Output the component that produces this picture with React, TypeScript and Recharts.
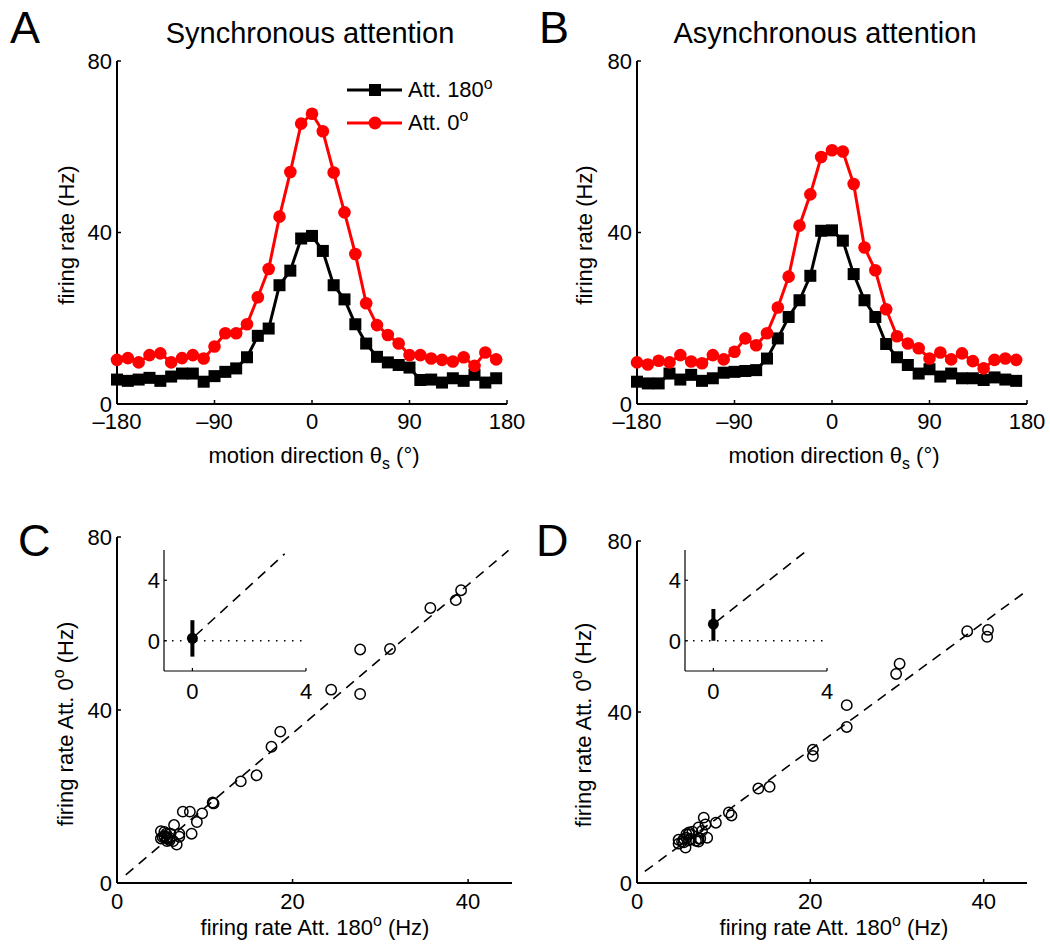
import React from "react";
import {
  LineChart,
  Line,
  ScatterChart,
  Scatter,
  XAxis,
  YAxis,
  ReferenceLine,
  ErrorBar,
} from "recharts";

const FONT = '"Liberation Sans", Arial, Helvetica, sans-serif';

// motion directions (deg), shared by both tuning curves
const directions = [
  -180, -170, -160, -150, -140, -130, -120, -110, -100, -90, -80, -70, -60, -50, -40, -30, -20, -10,
  0, 10, 20, 30, 40, 50, 60, 70, 80, 90, 100, 110, 120, 130, 140, 150, 160, 170,
];

// synchronous attention (panel A / C)
const syncAtt180 = [
  5.7, 5.4, 5.7, 6.1, 5.4, 6.4, 7.1, 7.1, 5.2, 6.5, 7.5, 8.3, 10.9, 15.9, 17.6, 27.7, 31.1, 38.6,
  39.2, 35.7, 27.7, 24.4, 18.6, 14.1, 11.0, 9.7, 9.1, 8.5, 5.6, 5.7, 5.0, 6.0, 5.4, 6.8, 5.0, 6.0,
];
const syncAtt0 = [
  10.3, 10.7, 9.7, 11.4, 11.8, 9.7, 10.7, 11.4, 10.6, 13.4, 16.5, 16.5, 18.6, 24.9, 31.5, 43.7, 54.1, 65.4,
  67.7, 63.6, 54.0, 44.7, 35.0, 23.5, 18.4, 16.1, 14.1, 11.4, 11.4, 10.6, 10.3, 9.9, 10.9, 8.9, 12.0, 10.4,
];

// asynchronous attention (panel B / D)
const asyncAtt180 = [
  5.2, 4.8, 4.8, 7.1, 5.7, 6.8, 5.4, 6.0, 7.3, 7.5, 7.7, 7.9, 10.6, 15.3, 20.3, 24.2, 29.9, 40.4,
  40.5, 38.1, 30.3, 24.2, 20.3, 14.0, 10.9, 9.1, 7.1, 8.1, 6.4, 7.1, 6.0, 6.0, 5.6, 6.2, 5.7, 5.4,
];
const asyncAtt0 = [
  9.7, 9.2, 10.1, 9.7, 11.4, 9.9, 9.5, 11.4, 10.4, 12.2, 15.3, 13.7, 16.5, 22.5, 29.7, 41.6, 48.9, 57.6,
  59.2, 58.9, 51.3, 36.5, 31.2, 22.1, 15.8, 14.1, 13.0, 10.6, 12.0, 10.4, 11.8, 10.0, 8.3, 10.3, 10.6, 10.3,
];

const angleTicks = [-180, -90, 0, 90, 180];
const rateTicks = [0, 40, 80];
const scatterTicks = [0, 20, 40];
const insetTicks = [0, 4];

// fitted lines
const fitSync = [{ x: 1, y: 1.9 }, { x: 44.6, y: 76.9 }];
const fitAsync = [{ x: 0.9, y: 2.7 }, { x: 44.8, y: 68.1 }];
const insetFitSync = [{ x: 0.1, y: 0.33 }, { x: 3.25, y: 5.75 }];
const insetFitAsync = [{ x: 0.1, y: 1.25 }, { x: 3.3, y: 5.98 }];
const interceptSync = [{ x: 0, y: 0.16, err: [1.21, 1.2] }];
const interceptAsync = [{ x: 0, y: 1.1, err: [1.1, 1.0] }];

const tuningSync = directions.map((d, i) => ({ dir: d, att180: syncAtt180[i], att0: syncAtt0[i] }));
const tuningAsync = directions.map((d, i) => ({ dir: d, att180: asyncAtt180[i], att0: asyncAtt0[i] }));
const pairsSync = directions.map((_, i) => ({ x: syncAtt180[i], y: syncAtt0[i] }));
const pairsAsync = directions.map((_, i) => ({ x: asyncAtt180[i], y: asyncAtt0[i] }));

const axisLine = { stroke: "#000", strokeWidth: 2 };
const tickLine = { stroke: "#000", strokeWidth: 1.5 };
const tickText = { fill: "#000", fontSize: 22, fontFamily: FONT };
const fmtAngle = (v: number) => (v < 0 ? `\u2013${Math.abs(v)}` : `${v}`);

const Sup = ({ children }: { children: React.ReactNode }) => (
  <span style={{ fontSize: "0.72em", position: "relative", top: "-0.55em" }}>{children}</span>
);
const Sub = ({ children }: { children: React.ReactNode }) => (
  <span style={{ fontSize: "0.72em", position: "relative", top: "0.4em" }}>{children}</span>
);

const squareDot = (p: any) =>
  p.cx == null ? null : (
    <rect key={`sq-${p.index}`} x={p.cx - 6} y={p.cy - 6} width={12} height={12} fill="#000" />
  );

const openCircle = (p: any) =>
  p.cx == null ? null : <circle cx={p.cx} cy={p.cy} r={5.2} fill="none" stroke="#000" strokeWidth={1.5} />;

const filledDot = (p: any) =>
  p.cx == null ? null : <circle cx={p.cx} cy={p.cy} r={5.5} fill="#000" />;

const legendRows = [
  { label: "180", color: "#000", square: true },
  { label: "0", color: "#ff0000", square: false },
];

const TuningLegend = () => (
  <div style={{ position: "absolute", left: 347, top: 74, fontFamily: FONT, fontSize: 22, color: "#000" }}>
    {legendRows.map((r) => (
      <div key={r.label} style={{ display: "flex", alignItems: "center", height: 32.5 }}>
        <svg width={56} height={20}>
          <line x1={0} y1={10} x2={55} y2={10} stroke={r.color} strokeWidth={3} />
          {r.square ? (
            <rect x={22} y={4} width={12} height={12} fill={r.color} />
          ) : (
            <circle cx={28} cy={10} r={6.5} fill={r.color} />
          )}
        </svg>
        <span style={{ marginLeft: 5, whiteSpace: "nowrap" }}>
          Att. {r.label}
          <Sup>o</Sup>
        </span>
      </div>
    ))}
  </div>
);

function TuningPanel({ left, width, data }: { left: number; width: number; data: any[] }) {
  return (
    <div style={{ position: "absolute", left, top: 0 }}>
      <LineChart width={width} height={480} data={data} margin={{ top: 61, right: width - 507, left: 0, bottom: 0 }}>
        <XAxis
          type="number"
          dataKey="dir"
          domain={[-180, 180]}
          ticks={angleTicks}
          tickFormatter={fmtAngle}
          height={76}
          tickSize={-4}
          tickMargin={13}
          axisLine={axisLine}
          tickLine={tickLine}
          tick={tickText}
          interval={0}
        />
        <YAxis
          type="number"
          domain={[0, 80]}
          ticks={rateTicks}
          width={117}
          tickSize={-4}
          tickMargin={9}
          axisLine={axisLine}
          tickLine={tickLine}
          tick={tickText}
          interval={0}
        />
        <Line type="linear" dataKey="att180" stroke="#000" strokeWidth={3} dot={squareDot} isAnimationActive={false} />
        <Line
          type="linear"
          dataKey="att0"
          stroke="#ff0000"
          strokeWidth={3}
          dot={{ r: 6.3, fill: "#ff0000", stroke: "none" }}
          isAnimationActive={false}
        />
      </LineChart>
    </div>
  );
}

function ScatterPanel({
  left,
  top,
  plotH,
  data,
  fit,
  rightPad,
}: {
  left: number;
  top: number;
  plotH: number;
  data: any[];
  fit: { x: number; y: number }[];
  rightPad: number;
}) {
  return (
    <div style={{ position: "absolute", left, top: 480 }}>
      <ScatterChart width={520} height={480} margin={{ top, right: rightPad, left: 0, bottom: 0 }}>
        <XAxis
          type="number"
          dataKey="x"
          domain={[0, 45]}
          ticks={scatterTicks}
          height={480 - top - plotH}
          tickSize={-4}
          tickMargin={14}
          axisLine={axisLine}
          tickLine={tickLine}
          tick={tickText}
          interval={0}
        />
        <YAxis
          type="number"
          dataKey="y"
          domain={[0, 80]}
          ticks={rateTicks}
          width={117}
          tickSize={-4}
          tickMargin={9}
          axisLine={axisLine}
          tickLine={tickLine}
          tick={tickText}
          interval={0}
        />
        <ReferenceLine segment={fit} stroke="#000" strokeWidth={1.6} strokeDasharray="10 7" />
        <Scatter data={data} shape={openCircle} isAnimationActive={false} />
      </ScatterChart>
    </div>
  );
}

function Inset({
  left,
  data,
  fit,
}: {
  left: number;
  data: any[];
  fit: { x: number; y: number }[];
}) {
  const thin = { stroke: "#000", strokeWidth: 1.2 };
  return (
    <div style={{ position: "absolute", left, top: 540 }}>
      <ScatterChart width={192} height={171} margin={{ top: 10, right: 10, left: 0, bottom: 0 }}>
        <XAxis
          type="number"
          dataKey="x"
          domain={[-1, 4]}
          ticks={insetTicks}
          height={40}
          tickSize={-3}
          tickMargin={15}
          axisLine={thin}
          tickLine={thin}
          tick={tickText}
          interval={0}
        />
        <YAxis
          type="number"
          dataKey="y"
          domain={[-2, 6]}
          ticks={insetTicks}
          width={40}
          tickSize={-3}
          tickMargin={7}
          axisLine={thin}
          tickLine={thin}
          tick={tickText}
          interval={0}
        />
        <ReferenceLine y={0} stroke="#000" strokeWidth={1.5} strokeDasharray="1.5 6.5" />
        <ReferenceLine segment={fit} stroke="#000" strokeWidth={1.6} strokeDasharray="10 7" />
        <Scatter data={data} shape={filledDot} isAnimationActive={false}>
          <ErrorBar dataKey="err" direction="y" width={0} stroke="#000" strokeWidth={4} />
        </Scatter>
      </ScatterChart>
    </div>
  );
}

const textBase: React.CSSProperties = {
  position: "absolute",
  fontFamily: FONT,
  color: "#000",
  whiteSpace: "nowrap",
};

const Letter = ({ x, y, children }: { x: number; y: number; children: string }) => (
  <div style={{ ...textBase, left: x, top: y, fontSize: 45, lineHeight: "45px" }}>{children}</div>
);

const Title = ({ cx, children }: { cx: number; children: string }) => (
  <div style={{ ...textBase, left: cx, top: 18.5, fontSize: 29, lineHeight: "29px", transform: "translateX(-50%)" }}>
    {children}
  </div>
);

const XLabel = ({ cx, top, children }: { cx: number; top: number; children: React.ReactNode }) => (
  <div style={{ ...textBase, left: cx, top, fontSize: 22, lineHeight: "22px", transform: "translateX(-50%)" }}>
    {children}
  </div>
);

const YLabel = ({ cx, cy, children }: { cx: number; cy: number; children: React.ReactNode }) => (
  <div
    style={{
      ...textBase,
      left: cx,
      top: cy,
      fontSize: 22,
      lineHeight: "22px",
      transform: "translate(-50%, -50%) rotate(-90deg)",
    }}
  >
    {children}
  </div>
);

const motionLabel = (
  <>
    motion direction {"\u03b8"}
    <Sub>s</Sub> ({"\u00b0"})
  </>
);
const att180Label = (
  <>
    firing rate Att. 180<Sup>o</Sup> (Hz)
  </>
);
const att0Label = (
  <>
    firing rate Att. 0<Sup>o</Sup> (Hz)
  </>
);

export default function App() {
  return (
    <div style={{ position: "absolute", left: 0, top: 0, width: 1050, height: 948, background: "#fff" }}>
      <TuningPanel left={0} width={540} data={tuningSync} />
      <TuningPanel left={520} width={530} data={tuningAsync} />
      <TuningLegend />
      <ScatterPanel left={0} top={57} plotH={346} data={pairsSync} fit={fitSync} rightPad={8} />
      <ScatterPanel left={520} top={61} plotH={342} data={pairsAsync} fit={fitAsync} rightPad={13} />
      <Inset left={124} data={interceptSync} fit={insetFitSync} />
      <Inset left={645} data={interceptAsync} fit={insetFitAsync} />

      <Letter x={10} y={5}>A</Letter>
      <Letter x={539} y={5}>B</Letter>
      <Letter x={18} y={518}>C</Letter>
      <Letter x={536} y={518}>D</Letter>

      <Title cx={310}>Synchronous attention</Title>
      <Title cx={825}>Asynchronous attention</Title>

      <XLabel cx={314} top={445}>{motionLabel}</XLabel>
      <XLabel cx={834} top={445}>{motionLabel}</XLabel>
      <XLabel cx={315} top={917}>{att180Label}</XLabel>
      <XLabel cx={834} top={917}>{att180Label}</XLabel>

      <YLabel cx={67} cy={235}>firing rate (Hz)</YLabel>
      <YLabel cx={585} cy={235}>firing rate (Hz)</YLabel>
      <YLabel cx={67} cy={724}>{att0Label}</YLabel>
      <YLabel cx={585} cy={725}>{att0Label}</YLabel>
    </div>
  );
}
